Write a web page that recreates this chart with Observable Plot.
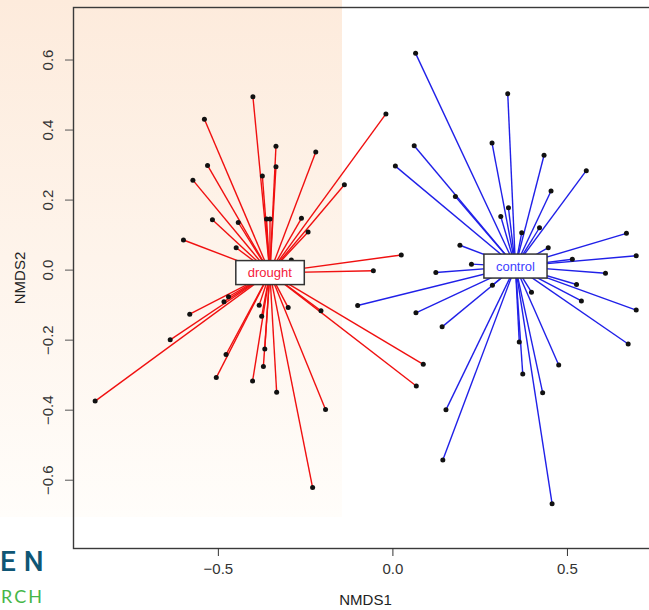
<!DOCTYPE html>
<html>
<head>
<meta charset="utf-8">
<script src="https://cdn.jsdelivr.net/npm/d3@7"></script>
<script src="https://cdn.jsdelivr.net/npm/@observablehq/plot@0.6"></script>
<style>
html, body { margin: 0; padding: 0; background: #fff; }
#wrap { position: relative; width: 649px; height: 610px; overflow: hidden; }
#bg { position: absolute; left: 0; top: 0; width: 342px; height: 517px; background: linear-gradient(#fdebdc, #fffdfa); }
#chart { position: absolute; left: 0; top: 0; }
.logo1 { position: absolute; left: 0px; top: 548px; font: 500 28px/28px Roboto, sans-serif; color: #0f5675; letter-spacing: 8px; white-space: nowrap; }
.logo2 { position: absolute; left: 1px; top: 587px; font: 400 18px/18px Lato, sans-serif; color: #45b649; letter-spacing: 2px; white-space: nowrap; }
</style>
</head>
<body>
<div id="wrap">
  <div id="bg"></div>
  <div class="logo1">EN</div>
  <div class="logo2">RCH</div>
  <div id="chart"></div>
</div>
<script>
// ---- data ----
const groups = ["drought", "control"];
const groupColors = ["#f01010", "#2020e8"];
const labelColors = ["#f5203a", "#4040ff"];
const centerX = [-0.3525, 0.351];
const centerY = [-0.008, 0.0106];

const droughtX = [-0.401,-0.540,-0.335,-0.221,-0.020,-0.531,-0.573,-0.335,-0.374,-0.139,-0.517,-0.443,-0.362,-0.352,-0.262,-0.243,-0.600,-0.449,-0.291,0.024,-0.056,-0.471,-0.484,-0.582,-0.638,-0.853,-0.478,-0.506,-0.383,-0.376,-0.367,-0.371,-0.402,-0.333,-0.300,-0.206,-0.193,-0.230,0.087,0.067];
const droughtY = [0.495,0.431,0.354,0.337,0.446,0.299,0.257,0.295,0.269,0.244,0.144,0.136,0.146,0.146,0.148,0.109,0.086,0.064,0.029,0.043,-0.002,-0.076,-0.090,-0.126,-0.199,-0.374,-0.241,-0.307,-0.100,-0.132,-0.225,-0.275,-0.317,-0.349,-0.107,-0.116,-0.398,-0.621,-0.269,-0.331];

const controlX = [0.065,0.329,0.284,0.433,0.554,0.061,0.007,0.453,0.179,0.331,0.309,0.369,0.420,0.669,0.445,0.192,0.697,0.514,0.225,0.123,0.609,0.526,0.540,0.697,0.674,0.397,0.285,-0.101,0.066,0.141,0.362,0.372,0.475,0.429,0.152,0.143,0.456];
const controlY = [0.619,0.504,0.363,0.328,0.284,0.355,0.297,0.226,0.210,0.178,0.153,0.107,0.121,0.105,0.064,0.071,0.041,0.031,0.017,-0.007,-0.009,-0.041,-0.088,-0.114,-0.211,-0.063,-0.043,-0.101,-0.122,-0.162,-0.205,-0.297,-0.271,-0.350,-0.399,-0.542,-0.667];

const xTicks = [-0.5, 0, 0.5];
const xTickLabels = ["\u22120.5", "0.0", "0.5"];
const yTicks = [-0.6, -0.4, -0.2, 0, 0.2, 0.4, 0.6];
const yTickLabels = ["\u22120.6", "\u22120.4", "\u22120.2", "0.0", "0.2", "0.4", "0.6"];
const xLabel = "NMDS1";
const yLabel = "NMDS2";

// ---- build tables ----
const seriesX = [droughtX, controlX];
const seriesY = [droughtY, controlY];
const points = [];
groups.forEach((g, gi) => {
  seriesX[gi].forEach((x, i) => {
    points.push({group: g, gi, x, y: seriesY[gi][i], cx: centerX[gi], cy: centerY[gi]});
  });
});
const centers = groups.map((g, gi) => ({name: g, gi, cx: centerX[gi], cy: centerY[gi]}));
const xLabelMap = new Map(xTicks.map((t, i) => [t, xTickLabels[i]]));
const yLabelMap = new Map(yTicks.map((t, i) => [t, yTickLabels[i]]));

const font = "'Liberation Sans', Arial, Helvetica, sans-serif";

const marks = [];
groups.forEach((g, gi) => {
  marks.push(Plot.link(points.filter(d => d.gi === gi), {
    x1: "cx", y1: "cy", x2: "x", y2: "y",
    stroke: groupColors[gi], strokeWidth: 1.4
  }));
});
marks.push(Plot.dot(points, {x: "x", y: "y", r: 2.5, fill: "#111", stroke: "none"}));
groups.forEach((g, gi) => {
  marks.push(Plot.text(centers.filter(d => d.gi === gi), {
    x: "cx", y: "cy", text: "name", fill: labelColors[gi], fontSize: 13
  }));
});
marks.push(Plot.frame({stroke: "#3a3a3a", strokeWidth: 1.4}));
marks.push(Plot.axisX({ticks: xTicks, tickSize: 8, tickPadding: 7, tickFormat: d => xLabelMap.get(d),
  label: null, color: "#333", fontSize: 15}));
marks.push(Plot.axisY({ticks: yTicks, tickSize: 8, tickFormat: () => null, label: null, color: "#555"}));
marks.push(Plot.text(yTicks, {y: d => d, text: d => yLabelMap.get(d), frameAnchor: "left", dx: -25,
  rotate: -90, textAnchor: "middle", lineAnchor: "middle", fill: "#333", fontSize: 15}));
marks.push(Plot.text([xLabel], {text: d => d, frameAnchor: "bottom", dy: 52, lineAnchor: "middle", fill: "#222", fontSize: 15}));
marks.push(Plot.text([yLabel], {text: d => d, frameAnchor: "left", dx: -53, rotate: -90, textAnchor: "middle",
  lineAnchor: "middle", fill: "#222", fontSize: 15}));

const plot = Plot.plot({
  width: 680, height: 610,
  marginLeft: 73, marginRight: 23, marginTop: 7, marginBottom: 62,
  x: {domain: [-0.915, 0.758]},
  y: {domain: [-0.795, 0.75]},
  style: {background: "transparent", maxWidth: "none", overflow: "visible", fontFamily: font, fontSize: "13px"},
  marks
});
document.getElementById("chart").appendChild(plot);

// white boxes behind the group labels (ordispider label style)
plot.querySelectorAll("text").forEach(t => {
  if (!groups.includes(t.textContent)) return;
  const b = t.getBBox();
  const r = document.createElementNS("http://www.w3.org/2000/svg", "rect");
  const padX = 12, h = 24;
  r.setAttribute("x", b.x - padX);
  r.setAttribute("y", b.y + b.height / 2 - h / 2);
  r.setAttribute("width", b.width + 2 * padX);
  r.setAttribute("height", h);
  r.setAttribute("fill", "#fff");
  r.setAttribute("stroke", "#333");
  r.setAttribute("stroke-width", "1.5");
  const tr = t.getAttribute("transform");
  if (tr) r.setAttribute("transform", tr);
  t.parentNode.insertBefore(r, t);
});
</script>
</body>
</html>
